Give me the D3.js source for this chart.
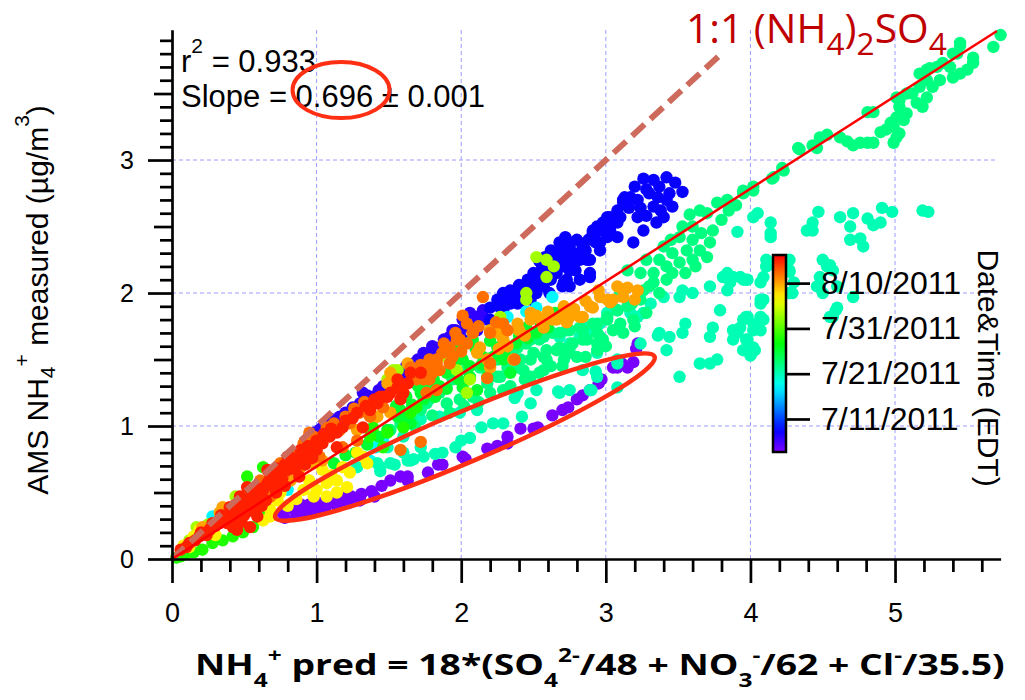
<!DOCTYPE html>
<html>
<head>
<meta charset="utf-8">
<script src="https://cdn.jsdelivr.net/npm/d3@7"></script>
<style>
  body { margin: 0; background: #fff; }
  svg { display: block; }
  text { white-space: pre; }
</style>
</head>
<body>
<svg id="chart" width="1025" height="700"></svg>
<script>
// ---- axes & reference values ----
const xMax = 5.73, yMax = 3.98;
const xTickValues = [0, 1, 2, 3, 4, 5];
const yTickValues = [0, 1, 2, 3];
const xGridValues = [1, 2, 3, 4, 5];
const yGridValues = [1, 2, 3];
const fitSlope = 0.696, fitSlopeErr = 0.001, fitR2 = 0.933;
const fitXEnd = 5.705;
const oneToOneEnd = 3.79;

// ---- colour scale (sample time) ----
const dateStart = "2011-07-03 17:00";
const dateEnd = "2011-08-16 05:00";
const colorTickDates = ["2011-07-11 00:00", "2011-07-21 00:00", "2011-07-31 00:00", "2011-08-10 00:00"];

// ---- measured vs predicted NH4+ (x = predicted, y = measured), grouped by sample time ----
const ptsJul04 = [[0.76,0.35],[0.78,0.31],[0.83,0.38],[0.86,0.33],[0.89,0.41],[0.92,0.35],[0.95,0.41],[0.99,0.36],[1.02,0.42],[1.06,0.38],[1.11,0.44],[1.14,0.40],[1.18,0.46],[1.22,0.42],[1.24,0.47],[1.30,0.44],[1.31,0.49],[1.38,0.51],[1.40,0.47],[1.45,0.55],[1.51,0.59],[1.58,0.62],[1.63,0.62],[1.63,0.59],[1.77,0.65],[1.84,0.71],[1.87,0.71],[2.01,0.77],[2.03,0.75],[2.18,0.83],[2.25,0.85],[2.32,0.92],[2.32,0.87],[2.41,0.98],[2.50,0.98],[2.53,0.99],[2.63,1.08],[2.70,1.12],[2.74,1.14],[2.80,1.20],[2.84,1.23],[2.89,1.27],[2.95,1.32],[2.97,1.35],[3.05,1.44],[3.08,1.44],[3.11,1.47],[3.15,1.44],[3.19,1.48],[3.22,1.62],[3.21,1.58]];

const ptsJul06 = [[0.98,0.95],[1.02,0.97],[1.09,1.02],[1.16,1.07],[1.04,0.99],[1.11,1.05],[1.00,0.95],[1.30,1.17],[1.37,1.20],[1.32,1.25],[1.39,1.22],[1.46,1.30],[1.53,1.34],[1.60,1.40],[1.67,1.47],[1.74,1.55],[1.78,1.55],[1.85,1.59],[1.92,1.67],[1.92,1.59],[1.99,1.70],[2.01,1.65],[2.06,1.74],[2.11,1.72],[2.11,1.82],[2.15,1.87],[2.18,1.80],[2.01,1.80],[2.06,1.85],[1.94,1.72],
  [1.70,1.50],[1.80,1.60],[1.88,1.65],[1.96,1.72],[2.03,1.76],[2.09,1.78],[1.82,1.52],[1.90,1.62],[1.98,1.62],[2.14,1.80],[1.62,1.45],[1.57,1.40],[1.50,1.35],[1.43,1.27],[1.25,1.14],[1.20,1.10],[1.35,1.23]];

const ptsJul08 = [[2.20,1.89],[2.25,1.95],[2.29,2.00],[2.34,2.02],[2.39,2.00],[2.43,2.05],[2.48,2.08],[2.52,2.12],[2.57,2.15],[2.61,2.25],[2.66,2.30],[2.71,2.32],[2.75,2.38],[2.71,2.20],[2.75,2.17],[2.80,2.25],[2.84,2.27],[2.89,2.15],[2.71,2.08],[2.61,2.00],[2.48,1.95],[2.39,1.92],[2.29,1.87],[2.20,1.80],[2.91,2.45],[2.94,2.50],[2.98,2.53],[3.03,2.57],[3.08,2.62],[3.12,2.68],[3.13,2.72],[3.08,2.53],[3.01,2.42],[2.96,2.38],[2.89,2.25],[2.82,2.10],[2.75,2.05],[3.26,2.86],[3.33,2.85],[3.42,2.87],[3.53,2.76],[3.44,2.75],[3.37,2.80],[3.46,2.65],[3.40,2.57],[3.35,2.53],[3.26,2.47],[3.22,2.57],[3.17,2.72],[3.12,2.70],[3.19,2.38],[3.08,2.42],[3.01,2.57],[3.03,2.47],[2.91,2.47],[2.96,2.32],[2.87,2.25],[2.82,2.25],[2.89,2.12],[2.73,2.10],[2.75,2.35],[2.70,2.05],[2.77,2.21],[3.33,2.65],[3.24,2.64],[2.57,2.05],[2.52,2.00],[2.43,1.95],[2.34,1.92],[2.66,2.15],[2.62,2.10],[2.93,2.38],[3.30,2.75],[3.20,2.80],[3.48,2.83],[3.28,2.58],
  [2.30,1.93],[2.36,1.97],[2.42,2.00],[2.46,2.03],[2.50,2.05],[2.55,2.10],[2.60,2.15],[2.64,2.20],[2.68,2.25],[2.72,2.27],[2.78,2.30],[2.84,2.35],[2.88,2.40],[2.92,2.42],[2.98,2.47],[3.04,2.52],[3.10,2.57],[3.16,2.64],[3.22,2.70],[3.28,2.78],[3.36,2.72],[3.42,2.70],[3.38,2.62],[2.86,2.32],[2.79,2.17],[2.66,2.22],[2.56,2.20],[2.50,2.15],[2.46,2.10],[2.40,2.06],[2.32,1.98],[2.26,1.90],[2.62,2.32],[2.68,2.38],[2.58,2.27],[2.54,2.24],[2.72,2.42],[2.80,2.40]];

const ptsJul18 = [[2.63,1.97],[2.52,1.89],[2.45,1.86],[2.32,1.82],[1.32,0.77],[1.37,0.74],[0.80,0.52],[1.46,0.89],[1.41,0.84],[0.28,0.32]];

const ptsJul21 = [[1.44,0.66],[1.54,0.71],[1.63,0.74],[1.67,0.75],[1.74,0.77],[1.82,0.79],[1.87,0.80],[1.96,0.84],[2.00,0.89],[2.06,0.91],[2.14,0.99],[2.22,1.02],[2.29,1.02],[2.37,1.21],[2.42,1.07],[2.48,1.17],[2.67,1.26],[2.75,1.27],[2.90,1.27],[2.93,1.41],[3.08,1.29],[3.08,1.47],[3.24,1.62],[3.36,1.68],
  [1.28,0.69],[1.42,0.72],[1.44,0.69],[1.51,0.72],[1.60,0.80],[1.65,0.74],[1.72,0.84],[1.49,0.84],[1.72,1.05],[1.60,0.92],[1.85,1.07],[1.99,1.10],[2.11,1.12],[2.52,1.27],[2.68,1.25],[2.94,1.37],[3.08,1.50],[2.94,1.55],[2.75,1.55],[2.84,1.42],[2.89,1.27],[2.39,1.25],
  [3.31,1.92],[3.40,1.97],[3.17,1.85],[3.08,1.87],[3.01,1.85],[2.96,1.77],[2.91,1.72],[2.87,1.74],[2.82,1.67],[2.75,1.62],[2.73,1.55],[2.68,1.67],[3.26,1.85],[3.22,1.82],[3.37,1.70],[3.44,1.67],[3.53,1.70],[3.55,1.77],[3.42,1.57],[3.51,1.37],[3.65,1.47],[3.72,1.47],[3.77,1.50],[3.74,1.74],[3.72,1.67],[3.79,1.87],[3.86,2.08],[3.88,2.12],[3.84,2.15],[3.95,2.10],[3.93,2.12],[3.53,2.02],[3.51,1.97],[3.60,2.00],[3.72,2.05],[3.81,2.12],[3.84,2.02],[3.88,1.72],[3.93,1.74],[3.97,1.82],[4.07,1.92],[3.88,1.65],[3.95,1.57],[4.02,1.59],[4.00,1.53],[3.91,1.70],
  [4.02,2.57],[4.05,2.60],[4.14,2.53],[4.14,2.42],[3.91,2.46],[4.11,2.20],[4.07,2.08],[4.09,2.12],[4.27,2.16],[4.30,2.08],[4.27,2.00],[4.39,2.47],[4.14,2.45],[4.43,2.53],[4.47,2.61],[4.43,2.47],[4.62,2.57],[4.69,2.50],[4.71,2.60],[4.69,2.40],[4.76,2.41],[4.78,2.35],[4.81,2.56],[4.85,2.51],[4.90,2.53],[4.91,2.64],[4.98,2.61],[5.19,2.62],[5.23,2.61],
  [4.50,2.25],[4.53,2.20],[4.57,2.17],[4.48,2.05],[4.60,1.89],[4.57,1.82],[4.71,1.97],[4.27,2.25],[4.27,2.00],[4.11,2.25],[3.97,2.10],[4.09,1.95],[4.07,1.82],[4.02,1.72],[3.95,1.80],[3.97,1.65],[4.03,1.57],
  [4.55,2.21],[4.48,2.12],[4.46,2.05],[4.50,2.00],[4.60,2.05],[4.59,1.87],[4.55,1.82],[3.98,2.10],[4.11,2.20],[4.07,1.95],[3.98,1.82],[4.02,1.77],[4.07,1.72],[3.98,1.65],[4.01,1.55],[4.09,1.80],[4.27,2.17],[4.29,2.00]];

const ptsJul23 = [[2.39,1.59],[2.48,1.65],[2.57,1.67],[2.68,1.70],[2.75,1.72],[2.84,1.72],[2.94,1.77],[3.01,1.82],[3.08,1.87],[3.15,1.90],[3.10,2.00],[3.15,2.17],[2.48,1.50],[2.57,1.52],[2.66,1.57],[2.75,1.59],[2.84,1.65],[2.94,1.70],[2.39,1.44],[2.48,1.37],[2.57,1.42],[2.71,1.50],[2.80,1.52],[2.94,1.62],[2.98,1.65],[2.25,1.37],[2.29,1.27],
  [3.77,2.68],[3.84,2.70],[3.95,2.77],[4.02,2.80],[4.16,2.87],[4.23,2.92],[4.34,3.08],[3.58,2.59],[3.65,2.62],[3.70,2.60],[3.74,2.47],[3.60,2.50],[3.53,2.50],[3.51,2.42],[3.60,2.40],[3.72,2.38],[3.65,2.32],[3.56,2.32],[3.46,2.30],[3.37,2.25],[3.28,2.25],[3.24,2.15],[3.33,2.15],[3.42,2.20],[3.51,2.23],[3.60,2.25],[3.70,2.27],[3.33,2.08],[3.26,2.02],[3.37,2.00],[3.42,2.10],
  [1.94,1.35],[2.04,1.42],[2.13,1.44],[2.25,1.50],[2.36,1.57],[2.45,1.62],[2.54,1.65],[2.63,1.70],[2.73,1.72],[2.82,1.74],[2.91,1.77],[3.01,1.80],[3.10,1.77],[3.19,1.80],[1.78,1.20],[1.85,1.25],[1.72,1.12],[1.65,1.07],[1.58,1.02],[1.51,0.97],[1.90,1.17],[1.99,1.20],[2.08,1.22],[2.18,1.32],[2.27,1.37],[2.32,1.44],[2.41,1.50],[2.50,1.55],[2.59,1.57],[2.68,1.59],[2.77,1.62],[2.87,1.65],[2.96,1.67],[3.05,1.72],[2.94,1.57],[2.73,1.55],[2.59,1.50],[2.43,1.42],[1.76,1.17],
  [1.68,1.00],[1.80,1.08],[1.92,1.10],[2.02,1.15],[2.12,1.18],[2.20,1.25],[2.34,1.30],[2.44,1.35],[2.54,1.40],[2.62,1.45],[2.70,1.45],[2.86,1.52],[3.00,1.60],[3.12,1.70],[3.20,1.75],[3.28,1.85],[3.18,1.92],[3.24,1.95],[3.30,2.05],[3.46,2.15],[3.55,2.15],[3.62,2.20],[3.66,2.45],[3.80,2.55],[3.85,2.62],[3.90,2.66],[3.45,2.40],[3.40,2.35],
  [4.33,3.09],[4.43,3.11],[4.48,3.17],[4.53,3.19],[4.62,3.17],[4.67,3.14],[4.71,3.11],[4.76,3.13],[4.81,3.13],[4.85,3.13],[4.90,3.21],[4.81,3.36],[4.85,3.36],[4.94,3.23],[4.99,3.25],[5.01,3.17],[5.03,3.20],[4.99,3.13],[4.97,3.28],[5.01,3.32],[5.06,3.30],[5.08,3.35],[5.03,3.40],[5.01,3.47],[5.03,3.45],[5.08,3.50],[5.12,3.50],[5.15,3.43],[5.19,3.40],[5.22,3.47],[5.17,3.55],[5.22,3.60],[5.26,3.55],[5.31,3.60],[5.24,3.69],[5.29,3.70],[5.33,3.73],[5.38,3.70],[5.40,3.62],[5.45,3.65],[5.50,3.68],[5.40,3.80],[5.45,3.86],[5.54,3.77],[5.54,3.73],[5.68,3.85],[5.17,3.65],[5.22,3.68],[4.22,2.94],[4.15,2.86],[4.02,2.77],[3.95,2.75],[4.46,3.09],[5.73,3.94],[5.43,3.80],[5.45,3.88]];

const ptsJul26 = [[1.97,1.62],[2.08,1.65],[2.01,1.50],[2.06,1.37],[1.90,1.40],[1.81,1.35],[1.72,1.25],[2.25,1.59],[2.29,1.50],[2.34,1.40],[2.18,1.37],[2.11,1.27],[2.01,1.29],[1.56,1.07],[1.60,1.05],[1.65,1.02],[1.49,0.97],[1.27,0.80],[1.20,0.78],[1.35,0.86],[1.43,0.92],[1.12,0.72],[1.55,1.15],[1.85,1.30],[1.95,1.45],[2.15,1.52],[2.40,1.68],[2.55,1.78],[2.65,1.85],[2.30,1.62],[2.45,1.74],
  [1.58,1.12],[1.66,1.16],[1.74,1.20],[1.82,1.22],[1.90,1.28],[1.98,1.35],[2.06,1.45],[2.14,1.46],[2.22,1.52],[2.30,1.56],[2.38,1.62],[2.46,1.66],[2.52,1.70],[2.60,1.74],[1.70,1.30],[1.78,1.30],[1.62,1.22],[1.95,1.53],[2.10,1.58],[2.20,1.64]];

const ptsJul29 = [[0.06,0.02],[0.15,0.05],[0.21,0.07],[0.28,0.12],[0.35,0.14],[0.42,0.17],[0.49,0.20],[0.56,0.24],[1.37,0.92],[1.39,0.99],[1.46,0.84],[1.49,0.95],[1.60,0.99],[1.65,1.10],[1.69,1.14],[0.63,0.69],[0.52,0.62],[0.60,0.30],[0.66,0.35],[0.10,0.04],[0.03,0.01]];

const ptsAug03 = [[2.52,2.27],[2.59,2.25],[2.64,2.20],[2.59,2.12],[2.45,2.00],[2.45,1.95],[2.27,1.82],[1.53,1.42],[1.65,1.44],[1.81,1.44],[1.90,1.52],[1.97,1.42],[2.06,1.35],[2.04,1.25],[1.49,1.35],[1.56,1.42],[0.17,0.24],[0.25,0.26],[0.44,0.47],[0.12,0.14]];

const ptsAug07 = [[0.68,0.37],[0.68,0.32],[0.73,0.44],[1.00,0.52],[1.07,0.57],[1.14,0.59],[1.21,0.54],[1.23,0.65],[1.18,0.69],[1.04,0.67],[0.95,0.59],[0.98,0.47],[1.07,0.47],[1.14,0.50],[0.91,0.52],[1.35,0.72],[1.32,0.77],[1.28,0.80],[0.52,0.47],[0.63,0.29],[0.19,0.22],[0.15,0.17],[0.21,0.20],[0.12,0.09],[0.86,0.45],[0.80,0.40],[1.10,0.63],[0.75,0.50],[0.08,0.10],[0.30,0.18]];

const ptsAug10 = [[2.48,1.85],[2.52,1.83],[2.71,1.90],[2.75,1.82],[2.82,1.82],[2.89,1.90],[2.96,1.97],[3.01,1.95],[3.05,1.95],[3.12,2.02],[2.39,1.77],[2.20,1.72],[2.25,1.70],[2.29,1.65],[2.13,1.59],[2.11,1.55],[2.18,1.50],[2.20,1.44],[2.36,1.50],[2.57,1.74],[2.66,1.80],
  [3.15,2.04],[3.22,2.02],[3.20,1.95],[3.12,1.97],[3.03,1.93],[2.91,1.89],[2.84,1.82],[2.75,1.85],[2.68,1.82],[2.73,1.78],[2.48,1.80],[2.63,1.80],
  [1.28,0.97],[1.42,1.07],[1.51,1.10],[1.35,1.14],[0.98,0.72],[1.04,0.74],[0.89,0.69],[0.82,0.59],[0.33,0.35],[0.35,0.39],[0.21,0.24],[1.63,1.47],[1.51,1.40],[1.49,1.32],
  [2.40,1.72],[2.55,1.80],[2.60,1.86],[2.78,1.88],[2.86,1.94],[2.95,2.02],[3.08,2.05],[2.32,1.60],[2.44,1.68],[2.26,1.58]];

const ptsAug12 = [[2.15,1.97],[2.01,1.83],[2.04,1.77],[2.08,1.70],[2.04,1.62],[1.97,1.65],[1.92,1.59],[1.94,1.52],[1.87,1.55],[1.83,1.50],[1.78,1.44],[1.74,1.40],[1.69,1.35],[1.78,1.35],[1.65,1.44],[1.85,1.42],[2.20,1.47],[2.37,1.50],[1.83,1.27],[1.76,1.25],
  [1.07,0.99],[1.16,0.97],[1.23,1.02],[1.30,1.10],[1.37,1.07],[1.46,1.14],[1.28,0.89],[1.18,0.84],[1.02,0.77],[0.93,0.74],[0.86,0.67],[0.77,0.62],[0.73,0.54],[0.68,0.47],[0.61,0.42],[0.56,0.52],[0.61,0.59],[0.75,0.72],[0.84,0.80],[0.91,0.87],[0.98,0.92],[1.58,0.82],[1.72,0.88],
  [1.67,1.40],[1.74,1.35],[1.78,1.50],[1.90,1.59],[1.83,1.47],[1.99,1.65],[2.08,1.70],[2.20,1.70],[2.18,1.36],[2.29,1.77],
  [1.12,1.02],[1.20,1.07],[1.26,1.13],[1.33,1.18],[0.95,0.95],[1.88,1.62],[1.96,1.70],[2.12,1.75],[2.24,1.78],[2.32,1.72],[2.00,1.56],[1.92,1.47],[1.80,1.40],[1.72,1.46]];

const ptsAug15 = [[0.06,0.07],[0.12,0.12],[0.19,0.17],[0.26,0.22],[0.33,0.27],[0.40,0.29],[0.42,0.35],[0.47,0.37],[0.45,0.29],[0.52,0.39],[0.56,0.42],[0.59,0.47],[0.63,0.52],[0.66,0.57],[0.70,0.59],[0.75,0.65],[0.80,0.67],[0.84,0.72],[0.86,0.74],[0.91,0.77],[0.95,0.80],[1.00,0.82],[1.04,0.87],[1.09,0.92],[1.14,0.95],[1.14,0.84],[1.18,0.99],[1.28,1.10],[1.32,0.99],[1.37,1.12],[1.44,1.22],[1.51,1.25],[1.56,1.29],[1.60,1.25],[1.63,1.32],[1.42,1.17],[0.38,0.27],[0.40,0.39],[0.47,0.47],[0.52,0.54],[0.54,0.24],[0.59,0.32],[0.45,0.22],[0.66,0.67],[0.70,0.65],[0.80,0.77],[1.00,0.89],[1.56,1.35],[1.58,1.27],[1.65,1.40],[1.72,1.40],[1.46,1.22],[1.49,1.22],[1.58,1.20],[0.30,0.25],[0.36,0.31],[0.50,0.33],[0.56,0.36],[0.62,0.40],[0.72,0.50],[0.78,0.55],[0.88,0.62],[0.24,0.18],[0.16,0.14],[0.10,0.09],
  [0.20,0.20],[0.28,0.27],[0.34,0.33],[0.43,0.40],[0.49,0.44],[0.55,0.49],[0.60,0.53],[0.68,0.62],[0.73,0.68],[0.78,0.71],[0.83,0.76],[0.89,0.82],[0.94,0.85],[1.05,0.94],[1.10,0.98],[1.20,1.04],[1.25,1.06],[1.34,1.15],[1.40,1.20],[0.65,0.44],[0.70,0.55],[0.76,0.60],[0.85,0.68],[0.92,0.71],[0.97,0.76],[0.48,0.28],[0.42,0.24]];

const sampleGroups = [
  { date: "2011-07-04 00:00", pts: ptsJul04 },
  { date: "2011-07-06 18:00", pts: ptsJul06 },
  { date: "2011-07-08 06:00", pts: ptsJul08 },
  { date: "2011-07-18 00:00", pts: ptsJul18 },
  { date: "2011-07-21 00:00", pts: ptsJul21 },
  { date: "2011-07-23 00:00", pts: ptsJul23 },
  { date: "2011-07-26 00:00", pts: ptsJul26 },
  { date: "2011-07-29 00:00", pts: ptsJul29 },
  { date: "2011-08-03 00:00", pts: ptsAug03 },
  { date: "2011-08-07 00:00", pts: ptsAug07 },
  { date: "2011-08-10 00:00", pts: ptsAug10 },
  { date: "2011-08-12 00:00", pts: ptsAug12 },
  { date: "2011-08-15 00:00", pts: ptsAug15 }
];

// ---- drawing ----
const ARIAL = "'Liberation Sans', Arial, Helvetica, sans-serif";
const NARROW = "'Liberation Sans Narrow', 'Arial Narrow', 'Open Sans', sans-serif";
const svg = d3.select("#chart");
const parse = d3.timeParse("%Y-%m-%d %H:%M");

const x = d3.scaleLinear().domain([0, xMax]).range([172, 1000.6]);
const y = d3.scaleLinear().domain([0, yMax]).range([559, 29.7]);
const tNorm = d3.scaleTime().domain([parse(dateStart), parse(dateEnd)]).range([0, 1]).clamp(true);
// Igor-style rainbow: violet at the earliest time, red at the latest
const rainbow = t => d3.hsl(270 * (1 - t), 1, 0.5).formatHex();

// grid
const grid = svg.append("g")
  .attr("stroke", "#9c9cff").attr("stroke-width", 1).attr("stroke-dasharray", "4,3");
grid.selectAll("line.gv").data(xGridValues).join("line").attr("class", "gv")
  .attr("x1", d => x(d)).attr("x2", d => x(d)).attr("y1", y(0)).attr("y2", y(yMax));
grid.selectAll("line.gh").data(yGridValues).join("line").attr("class", "gh")
  .attr("y1", d => y(d)).attr("y2", d => y(d)).attr("x1", x(0)).attr("x2", x(5.7));

// points, oldest first so later samples sit on top
const points = sampleGroups.flatMap(g => g.pts.map(p => ({ px: p[0], py: p[1], t: parse(g.date) })));
points.sort((a, b) => a.t - b.t);
svg.append("g").selectAll("circle").data(points).join("circle")
  .attr("cx", d => x(d.px)).attr("cy", d => y(d.py)).attr("r", 6.2)
  .attr("fill", d => rainbow(tNorm(d.t)));

// 1:1 line and fit line
svg.append("line")
  .attr("x1", x(0)).attr("y1", y(0)).attr("x2", x(oneToOneEnd)).attr("y2", y(oneToOneEnd))
  .attr("stroke", "#cd6a5c").attr("stroke-width", 6).attr("stroke-dasharray", "17,8");
svg.append("line")
  .attr("x1", x(0)).attr("y1", y(0)).attr("x2", x(fitXEnd)).attr("y2", y(fitSlope * fitXEnd))
  .attr("stroke", "#ff0000").attr("stroke-width", 2.5);

// axes
function styleAxis(g, fontSize) {
  g.attr("font-family", ARIAL).attr("font-size", fontSize);
  g.select(".domain").attr("stroke", "#000").attr("stroke-width", 2.7);
  g.selectAll(".tick line").attr("stroke", "#000").attr("stroke-width", 2.7);
  g.selectAll(".tick text").attr("fill", "#000");
}
const yMinor = d3.range(1, 40).filter(i => i % 5 !== 0).map(i => i / 10);
const yMid = d3.range(1, 40).filter(i => i % 10 === 5).map(i => i / 10);
const xMinor = d3.range(1, 29).filter(i => i % 5 !== 0).map(i => i / 5);

const gyMinor = svg.append("g").attr("transform", "translate(172,0)")
  .call(d3.axisLeft(y).tickValues(yMinor).tickSize(12).tickSizeOuter(0).tickFormat(""));
gyMinor.select(".domain").remove(); styleAxis(gyMinor, 25);
const gyMid = svg.append("g").attr("transform", "translate(172,0)")
  .call(d3.axisLeft(y).tickValues(yMid).tickSize(18).tickSizeOuter(0).tickFormat(""));
gyMid.select(".domain").remove(); styleAxis(gyMid, 25);
const gy = svg.append("g").attr("transform", "translate(172,0)")
  .call(d3.axisLeft(y).tickValues(yTickValues).tickSize(24).tickSizeOuter(0).tickPadding(14).tickFormat(d3.format("d")));
styleAxis(gy, 25);

const gxMinor = svg.append("g").attr("transform", "translate(0,559)")
  .call(d3.axisBottom(x).tickValues(xMinor).tickSize(13).tickSizeOuter(0).tickFormat(""));
gxMinor.select(".domain").remove(); styleAxis(gxMinor, 27);
const gx = svg.append("g").attr("transform", "translate(0,559)")
  .call(d3.axisBottom(x).tickValues(xTickValues).tickSize(24).tickSizeOuter(0).tickPadding(20).tickFormat(d3.format("d")));
styleAxis(gx, 27);

// rich text helper: parts are [string, "n" | "sub" | "sup"]
function richText(parent, parts, o) {
  const t = parent.append("text").attr("font-size", o.size);
  let cur = 0;
  parts.forEach(([s, k]) => {
    const target = k === "sub" ? o.subShift : k === "sup" ? o.supShift : 0;
    t.append("tspan").attr("dy", target - cur)
      .attr("font-size", k === "n" ? o.size : o.smallSize).text(s);
    cur = target;
  });
  return t;
}

// y-axis title
const yTitle = richText(svg.append("g"), [["AMS NH", "n"], ["4", "sub"], ["+", "sup"], [" measured (µg/m", "n"], ["3", "sup"], [")", "n"]],
  { size: 30, smallSize: 21, subShift: 7, supShift: -19 })
  .attr("font-family", ARIAL).attr("fill", "#000").attr("text-anchor", "middle");
yTitle.attr("transform", "translate(48,300) rotate(-90)");

// x-axis title, bold condensed, stretched to its span
const xTitle = richText(svg.append("g"), [["NH", "n"], ["4", "sub"], ["+", "sup"], [" pred = 18*(SO", "n"], ["4", "sub"], ["2-", "sup"], ["/48 + NO", "n"], ["3", "sub"], ["-", "sup"], ["/62 + Cl", "n"], ["-", "sup"], ["/35.5)", "n"]],
  { size: 29, smallSize: 19, subShift: 12, supShift: -13 })
  .attr("font-family", NARROW).attr("font-weight", "bold").attr("fill", "#000");
{
  const bb = xTitle.node().getBBox();
  const s = (1005 - 195) / bb.width;
  xTitle.attr("transform", `translate(195,675) scale(${s},1) translate(${-bb.x},0)`);
}

// 1:1 label
const ratioLabel = richText(svg.append("g"), [["1:1 (NH", "n"], ["4", "sub"], [")", "n"], ["2", "sub"], ["SO", "n"], ["4", "sub"]],
  { size: 40, smallSize: 31, subShift: 12, supShift: 0 })
  .attr("font-family", NARROW).attr("fill", "#c00000");
{
  const bb = ratioLabel.node().getBBox();
  const s = (947 - 686) / bb.width;
  ratioLabel.attr("transform", `translate(686,43) scale(${s},1) translate(${-bb.x},0)`);
}

// fit statistics
const stats = svg.append("g").attr("font-family", ARIAL).attr("fill", "#000");
const r2Text = stats.append("text").attr("x", 181).attr("y", 72).attr("font-size", 31);
r2Text.append("tspan").text("r");
r2Text.append("tspan").attr("font-size", 21).attr("dy", -19).text("2");
r2Text.append("tspan").attr("dy", 19).text(" = " + d3.format(".3f")(fitR2));
stats.append("text").attr("x", 181).attr("y", 107).attr("font-size", 31)
  .text("Slope = " + d3.format(".3f")(fitSlope) + " ± " + d3.format(".3f")(fitSlopeErr));

// highlight ellipses
const hl = "#ff2f14";
svg.append("ellipse")
  .attr("transform", `translate(${x(1.169)},${y(3.526)})`)
  .attr("rx", 48.5).attr("ry", 28)
  .attr("fill", "none").attr("stroke", hl).attr("stroke-width", 4);
svg.append("ellipse")
  .attr("transform", `translate(${x(2.026)},${y(0.917)}) rotate(-23)`)
  .attr("rx", 206).attr("ry", 25)
  .attr("fill", "none").attr("stroke", hl).attr("stroke-width", 4.5);

// colour bar
const cbTop = 255, cbBottom = 452, cbX = 773, cbW = 13;
const cbScale = d3.scaleTime().domain([parse(dateStart), parse(dateEnd)]).range([cbBottom, cbTop]);
const grad = svg.append("defs").append("linearGradient").attr("id", "rainbowGrad")
  .attr("x1", 0).attr("y1", 1).attr("x2", 0).attr("y2", 0);
grad.selectAll("stop").data(d3.range(0, 1.0001, 0.05)).join("stop")
  .attr("offset", d => d).attr("stop-color", d => rainbow(d));
svg.append("rect").attr("x", cbX).attr("y", cbTop).attr("width", cbW).attr("height", cbBottom - cbTop)
  .attr("fill", "url(#rainbowGrad)").attr("stroke", "#000").attr("stroke-width", 2.5);
const gcb = svg.append("g").attr("transform", `translate(${cbX + cbW},0)`)
  .call(d3.axisRight(cbScale).tickValues(colorTickDates.map(parse)).tickSize(24).tickSizeOuter(0)
    .tickPadding(11).tickFormat(d3.timeFormat("%-m/%-d/%Y")));
gcb.select(".domain").remove();
styleAxis(gcb, 32);

svg.append("text").attr("transform", "translate(978,368) rotate(90)")
  .attr("text-anchor", "middle").attr("font-family", ARIAL).attr("font-size", 30).attr("fill", "#000")
  .text("Date&Time (EDT)");
</script>
